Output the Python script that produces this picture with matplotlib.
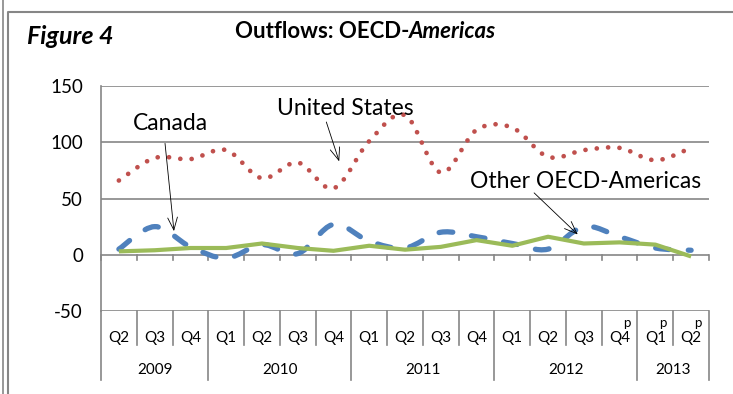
import numpy as np
import matplotlib
matplotlib.use('Agg')
import matplotlib.pyplot as plt
from matplotlib.path import Path
from matplotlib.patches import PathPatch
from matplotlib.lines import Line2D

plt.rcParams['font.family'] = ['Lato', 'DejaVu Sans']
plt.rcParams['axes.unicode_minus'] = False

# ---------------- data ----------------
quarters = ['Q2', 'Q3', 'Q4', 'Q1', 'Q2', 'Q3', 'Q4', 'Q1', 'Q2', 'Q3', 'Q4',
            'Q1', 'Q2', 'Q3', 'Q4', 'Q1', 'Q2']
prelim = [False]*14 + [True, True, True]
years = ['2009', '2010', '2011', '2012', '2013']
year_len = [3, 4, 4, 4, 2]

united_states = [66, 86, 85, 93, 68, 82, 59, 101, 124, 73, 111, 113, 87, 93, 95, 84, 95]
canada = [5, 25, 7, -3, 9, 1, 27, 12, 6, 20, 16, 10, 5, 25, 16, 6, 4]
other_oecd = [3, 4, 6, 6, 10, 6, 3.5, 8, 4.5, 7, 13, 8, 16, 10, 11, 9, -1.5]

grey = '#868686'


def smooth_path(xs, ys):
    # excel-like smoothed line: cubic bezier through every point
    pts = np.column_stack([xs, ys]).astype(float)
    n = len(pts)
    verts = [pts[0]]
    codes = [Path.MOVETO]
    for i in range(n-1):
        p0 = pts[max(i-1, 0)]
        p1 = pts[i]
        p2 = pts[i+1]
        p3 = pts[min(i+2, n-1)]
        c1 = p1 + (p2-p0)/6.0
        c2 = p2 - (p3-p1)/6.0
        verts += [c1, c2, p2]
        codes += [Path.CURVE4]*3
    return Path(verts, codes)


fig = plt.figure(figsize=(7.33, 3.94), dpi=100)
ax = fig.add_axes([101/733, 1-311/394, 608/733, 225/394])
x = np.arange(len(quarters))
ax.set_xlim(-0.5, len(quarters)-0.5)
ax.set_ylim(-50, 150)

for yv in [-50, 0, 50, 100, 150]:
    ax.axhline(yv, color=grey, lw=1.2, zorder=1)

ax.add_patch(PathPatch(smooth_path(x, united_states), fill=False, edgecolor='#C0504D',
                       lw=3.4, linestyle=(0, (0.01, 2.4)), capstyle='round', zorder=3))
ax.add_patch(PathPatch(smooth_path(x, canada), fill=False, edgecolor='#4F81BD',
                       lw=3.8, linestyle=(0, (2.6, 3.6)), capstyle='round', zorder=3))
ax.plot(x, other_oecd, color='#9BBB59', lw=3.0, solid_capstyle='butt', zorder=4)

for s in ['top', 'right', 'bottom']:
    ax.spines[s].set_visible(False)
ax.spines['left'].set_color(grey)
ax.spines['left'].set_linewidth(1.2)
ax.set_yticks([-50, 0, 50, 100, 150])
ax.tick_params(axis='y', length=0, pad=13, labelsize=13.5)
ax.set_xticks([])

# tick marks on the zero line
tr = ax.get_xaxis_transform()
for b in np.arange(len(quarters)+1)-0.5:
    ax.plot([b, b], [0, -5], color=grey, lw=1.2, clip_on=False, zorder=2)

# multi-level category axis
yb = lambda px: -(px-311)/225.0
bounds = np.cumsum([0]+year_len) - 0.5
for b in np.arange(len(quarters)+1)-0.5:
    full = np.any(np.isclose(bounds, b))
    ax.add_line(Line2D([b, b], [0, yb(380 if full else 345)], transform=tr,
                       color=grey, lw=1.2, clip_on=False))
for i, q in enumerate(quarters):
    ax.text(i, yb(338), q, transform=tr, ha='center', va='center', fontsize=11)
    if prelim[i]:
        ax.text(i+0.2, yb(323), 'p', transform=tr, ha='center', va='center', fontsize=9.5)
for k, yr in enumerate(years):
    ax.text((bounds[k]+bounds[k+1])/2, yb(370), yr, transform=tr, ha='center',
            va='center', fontsize=11)

# annotations
arr = dict(arrowstyle='->,head_length=0.9,head_width=0.35', color='black', lw=0.6,
           shrinkA=0, shrinkB=0)
ax.text(1.43, 117, 'Canada', ha='center', va='center', fontsize=16.5)
ax.annotate('', xy=(1.54, 21), xytext=(1.29, 99), arrowprops=arr)
ax.text(6.32, 130, 'United States', ha='center', va='center', fontsize=16.5)
ax.annotate('', xy=(6.16, 83), xytext=(5.8, 118), arrowprops=arr)
ax.text(13.06, 65, 'Other OECD-Americas', ha='center', va='center', fontsize=16.5)
ax.annotate('', xy=(12.83, 18), xytext=(11.61, 55), arrowprops=arr)

# titles and frame
fig.text(27/733, 1-44/394, 'Figure 4', fontsize=18, fontweight='bold', style='italic',
         ha='left', va='baseline')
t1 = fig.text(235/733, 1-38/394, 'Outflows: OECD-', fontsize=16, fontweight='bold',
              ha='left', va='baseline')
fig.canvas.draw()
bb = t1.get_window_extent()
fig.text(bb.x1/733, 1-38/394, 'Americas', fontsize=16, fontweight='bold', style='italic',
         ha='left', va='baseline')
fig.add_artist(Line2D([2.5/733, 2.5/733], [0, 1], color=grey, lw=1.2))
fig.add_artist(Line2D([8/733, 8/733, 1], [0, 1-12/394, 1-12/394], color=grey, lw=1.5))

fig.savefig('out.png', dpi=100)
